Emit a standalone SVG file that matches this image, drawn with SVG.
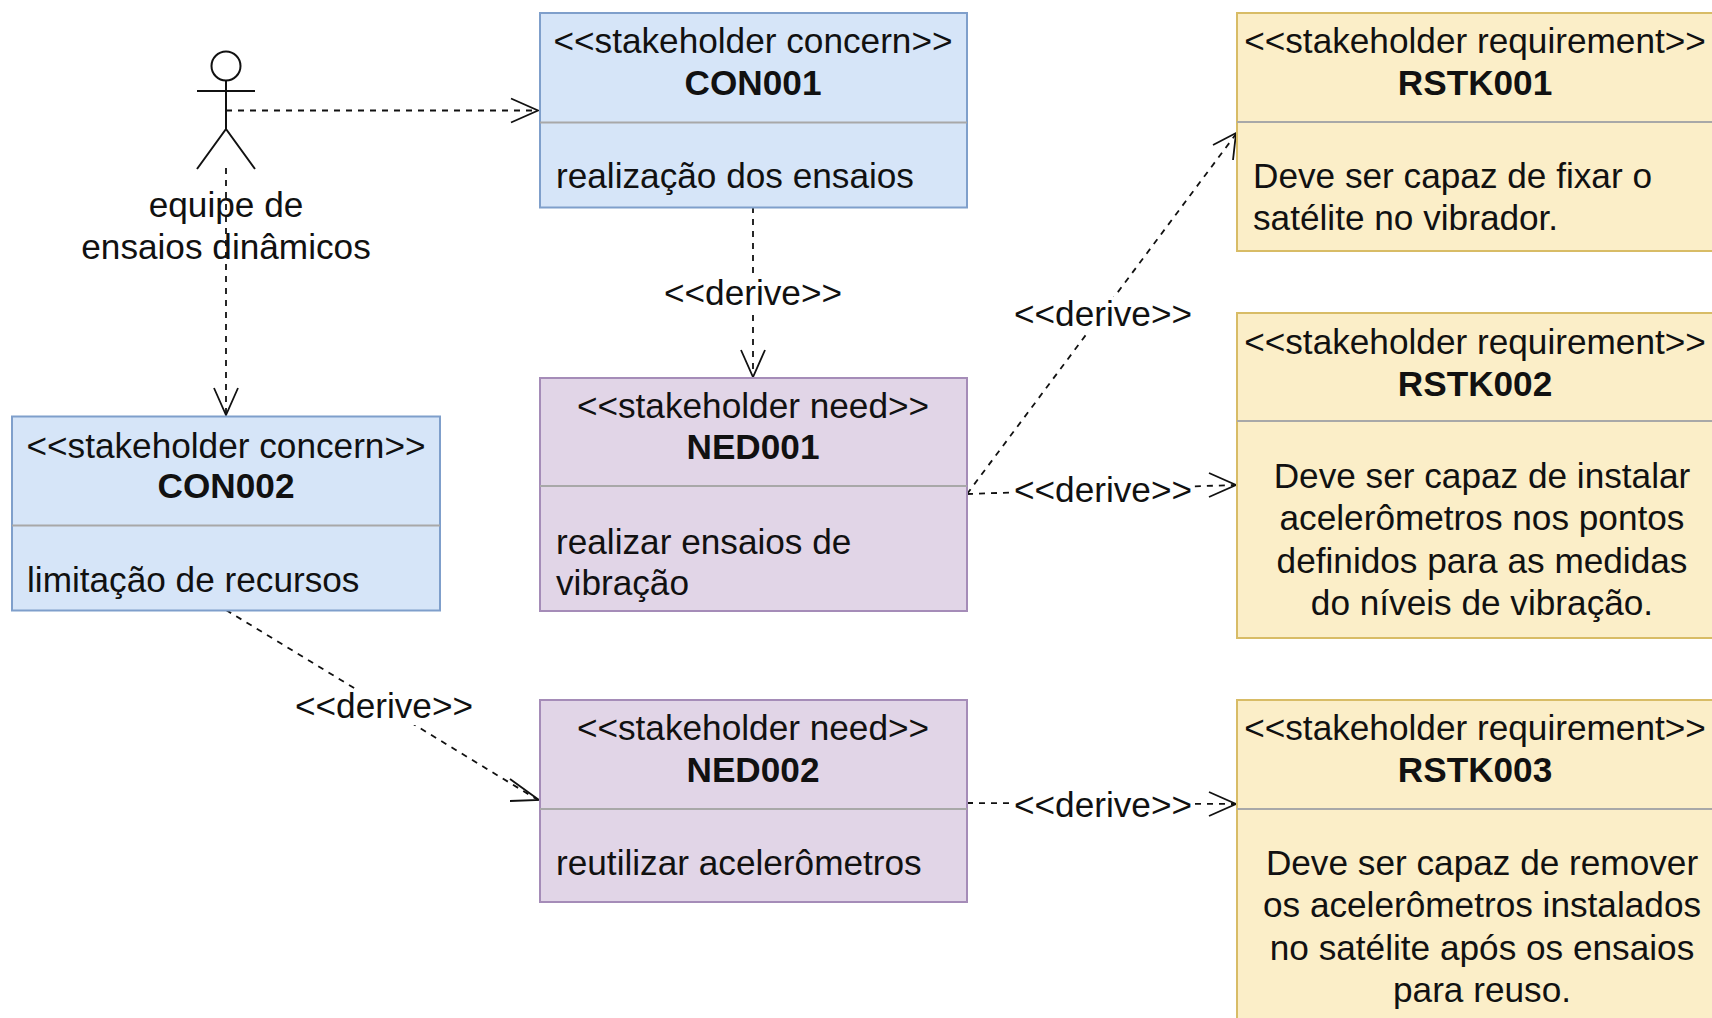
<svg xmlns="http://www.w3.org/2000/svg" width="1712" height="1018" viewBox="0 0 1712 1018">
<style>
text{font-family:"Liberation Sans",Arial,sans-serif;font-size:35.2px;fill:#111}
.c{text-anchor:middle}
.b{font-weight:bold}
.blue{fill:#d6e5f8;stroke:#7f9fcb;stroke-width:2}
.pur{fill:#e1d5e7;stroke:#a58cb8;stroke-width:2}
.yel{fill:#fbeec8;stroke:#d8bc66;stroke-width:2}
.div{stroke:#a8a8a8;stroke-width:2;fill:none}
.con{fill:none;stroke:#111;stroke-width:1.8;stroke-dasharray:6 6}
.head{fill:none;stroke:#111;stroke-width:1.8}
.act{fill:none;stroke:#111;stroke-width:2}
.lbl{fill:#fff;stroke:none}
</style>
<rect width="1712" height="1018" fill="#fff"/>
<g id="connectors">
<path class="con" d="M226 110.500H537"/><path class="head" d="M511 98.500L538 110.500L511 122.500"/>
<path class="con" d="M226 168V414"/><path class="head" d="M214 388L226 415L238 388"/>
<path class="con" d="M753 207V376"/><path class="head" d="M741 350L753 377L765 350"/>
<path class="con" d="M967 494L1236 134"/><path class="head" d="M1213 145L1236 133L1233 160"/>
<path class="con" d="M967 494L1235 485"/><path class="head" d="M1209 473L1236 485L1209 497"/>
<path class="con" d="M226 610L538 800"/><path class="head" d="M510 779L539 800L510 801"/>
<path class="con" d="M967 803L1235 804"/><path class="head" d="M1209 792L1236 804L1209 816"/>
</g>
<g id="label-derive-1"><rect class="lbl" x="665" y="276" width="176" height="36"/><text class="c" x="753" y="305">&lt;&lt;derive&gt;&gt;</text></g>
<g id="label-derive-2"><rect class="lbl" x="1015" y="297" width="176" height="36"/><text class="c" x="1103" y="326">&lt;&lt;derive&gt;&gt;</text></g>
<g id="label-derive-3"><rect class="lbl" x="1015" y="473" width="176" height="36"/><text class="c" x="1103" y="502">&lt;&lt;derive&gt;&gt;</text></g>
<g id="label-derive-4"><rect class="lbl" x="296" y="689" width="176" height="36"/><text class="c" x="384" y="718">&lt;&lt;derive&gt;&gt;</text></g>
<g id="label-derive-5"><rect class="lbl" x="1015" y="787" width="176" height="36"/><text class="c" x="1103" y="817">&lt;&lt;derive&gt;&gt;</text></g>
<g id="actor">
<circle class="act" cx="226" cy="66" r="14.5"/>
<path class="act" d="M226 81V129M197 91H255M226 129L197 169M226 129L255 169"/>
<text class="c" x="226" y="217">equipe de</text>
<text class="c" x="226" y="259">ensaios dinâmicos</text>
</g>
<g id="CON001">
<rect class="blue" x="540" y="13" width="427" height="194.500"/><path class="div" d="M540 122.500H967"/>
<text class="c" x="753" y="53">&lt;&lt;stakeholder concern&gt;&gt;</text>
<text class="c b" x="753" y="95">CON001</text>
<text x="556" y="188">realização dos ensaios</text>
</g>
<g id="CON002">
<rect class="blue" x="12" y="416.500" width="428" height="194"/><path class="div" d="M12 525.500H440"/>
<text class="c" x="226" y="457.500">&lt;&lt;stakeholder concern&gt;&gt;</text>
<text class="c b" x="226" y="498">CON002</text>
<text x="27" y="592">limitação de recursos</text>
</g>
<g id="NED001">
<rect class="pur" x="540" y="378" width="427" height="233"/><path class="div" d="M540 486H967"/>
<text class="c" x="753" y="418">&lt;&lt;stakeholder need&gt;&gt;</text>
<text class="c b" x="753" y="459">NED001</text>
<text x="556" y="553.500">realizar ensaios de</text>
<text x="556" y="594.500">vibração</text>
</g>
<g id="NED002">
<rect class="pur" x="540" y="700" width="427" height="202"/><path class="div" d="M540 809H967"/>
<text class="c" x="753" y="740">&lt;&lt;stakeholder need&gt;&gt;</text>
<text class="c b" x="753" y="782">NED002</text>
<text x="556" y="875">reutilizar acelerômetros</text>
</g>
<g id="RSTK001">
<rect class="yel" x="1237" y="13" width="490" height="238"/><path class="div" d="M1237 122H1727"/>
<text class="c" x="1475" y="53">&lt;&lt;stakeholder requirement&gt;&gt;</text>
<text class="c b" x="1475" y="95">RSTK001</text>
<text x="1253" y="188">Deve ser capaz de fixar o</text>
<text x="1253" y="230">satélite no vibrador.</text>
</g>
<g id="RSTK002">
<rect class="yel" x="1237" y="313" width="490" height="325"/><path class="div" d="M1237 421H1727"/>
<text class="c" x="1475" y="353.500">&lt;&lt;stakeholder requirement&gt;&gt;</text>
<text class="c b" x="1475" y="395.500">RSTK002</text>
<text class="c" x="1482" y="488">Deve ser capaz de instalar</text>
<text class="c" x="1482" y="530">acelerômetros nos pontos</text>
<text class="c" x="1482" y="573">definidos para as medidas</text>
<text class="c" x="1482" y="615">do níveis de vibração.</text>
</g>
<g id="RSTK003">
<rect class="yel" x="1237" y="700" width="490" height="330"/><path class="div" d="M1237 809H1727"/>
<text class="c" x="1475" y="740">&lt;&lt;stakeholder requirement&gt;&gt;</text>
<text class="c b" x="1475" y="782">RSTK003</text>
<text class="c" x="1482" y="875">Deve ser capaz de remover</text>
<text class="c" x="1482" y="917">os acelerômetros instalados</text>
<text class="c" x="1482" y="960">no satélite após os ensaios</text>
<text class="c" x="1482" y="1002">para reuso.</text>
</g>
</svg>
